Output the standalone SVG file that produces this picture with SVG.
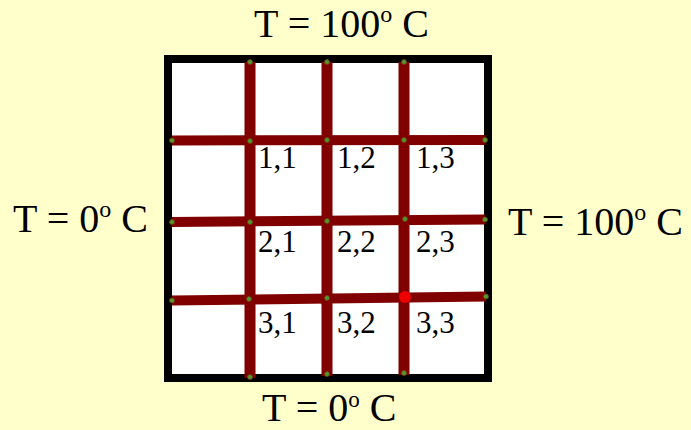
<svg xmlns="http://www.w3.org/2000/svg" width="691" height="430" viewBox="0 0 691 430">
<style>
.t{font-family:"Liberation Serif","Times New Roman",serif;font-size:40px;fill:#000}
.lbl{font-family:"Liberation Serif","Times New Roman",serif;font-size:31px;fill:#000}
.g{stroke:#800000;stroke-linecap:butt;fill:none}
.dot{fill:#4f9a2c;stroke:#7a3a10;stroke-width:0.8}
.red{fill:#ee0000}
</style>
<rect width="691" height="430" fill="#FFFFCC"/>
<g id="plate">
<rect x="168" y="59" width="320" height="319" fill="#ffffff" stroke="#000" stroke-width="8"/>
</g>
<g id="marks">
<circle class="red" cx="250" cy="303" r="5"/>
<circle class="red" cx="326" cy="302" r="5"/>
<circle class="red" cx="400" cy="219" r="4"/>
</g>
<g id="connectors">
<line class="g" x1="250" y1="62" x2="250" y2="378" stroke-width="11"/>
<line class="g" x1="327" y1="62" x2="327" y2="376" stroke-width="11"/>
<line class="g" x1="404" y1="62" x2="404" y2="375" stroke-width="11"/>
<line class="g" x1="172" y1="140.5" x2="485" y2="140" stroke-width="10"/>
<line class="g" x1="172" y1="222" x2="485" y2="219.5" stroke-width="10"/>
<line class="g" x1="172" y1="300.5" x2="486" y2="296.5" stroke-width="10"/>
</g>
<g id="nodes">
<circle class="red" cx="405" cy="297" r="6"/>
<circle class="dot" cx="250" cy="62" r="2.5"/>
<circle class="dot" cx="327" cy="62" r="2.5"/>
<circle class="dot" cx="404" cy="62" r="2.5"/>
<circle class="dot" cx="172" cy="140.5" r="2.5"/>
<circle class="dot" cx="250" cy="141" r="2.5"/>
<circle class="dot" cx="327" cy="140" r="2.5"/>
<circle class="dot" cx="404" cy="140" r="2.5"/>
<circle class="dot" cx="485" cy="140" r="2.5"/>
<circle class="dot" cx="172" cy="222" r="2.5"/>
<circle class="dot" cx="250" cy="222" r="2.5"/>
<circle class="dot" cx="327" cy="221" r="2.5"/>
<circle class="dot" cx="405" cy="219" r="2.5"/>
<circle class="dot" cx="485" cy="219.5" r="2.5"/>
<circle class="dot" cx="172" cy="300.5" r="2.5"/>
<circle class="dot" cx="249" cy="299" r="2.5"/>
<circle class="dot" cx="327" cy="298" r="2.5"/>
<circle class="dot" cx="486" cy="296.5" r="2.5"/>
<circle class="dot" cx="250" cy="377" r="2.5"/>
<circle class="dot" cx="327" cy="374" r="2.5"/>
<circle class="dot" cx="404" cy="373" r="2.5"/>
</g>
<g id="cells">
<text class="lbl" x="258" y="168">1,1</text>
<text class="lbl" x="337" y="168">1,2</text>
<text class="lbl" x="416" y="168">1,3</text>
<text class="lbl" x="258" y="252">2,1</text>
<text class="lbl" x="337" y="252">2,2</text>
<text class="lbl" x="416" y="252">2,3</text>
<text class="lbl" x="258" y="333">3,1</text>
<text class="lbl" x="337" y="333">3,2</text>
<text class="lbl" x="416" y="333">3,3</text>
</g>
<g id="boundary-top"><text class="t" x="254" y="37">T = 100<tspan font-size="24" dy="-15">o</tspan><tspan dy="15"> C</tspan></text></g>
<g id="boundary-left"><text class="t" x="13" y="232">T = 0<tspan font-size="24" dy="-15">o</tspan><tspan dy="15"> C</tspan></text></g>
<g id="boundary-right"><text class="t" x="508" y="235">T = 100<tspan font-size="24" dy="-15">o</tspan><tspan dy="15"> C</tspan></text></g>
<g id="boundary-bottom"><text class="t" x="262" y="421" font-size="38">T = 0<tspan font-size="23" dy="-14">o</tspan><tspan dy="14"> C</tspan></text></g>
</svg>
